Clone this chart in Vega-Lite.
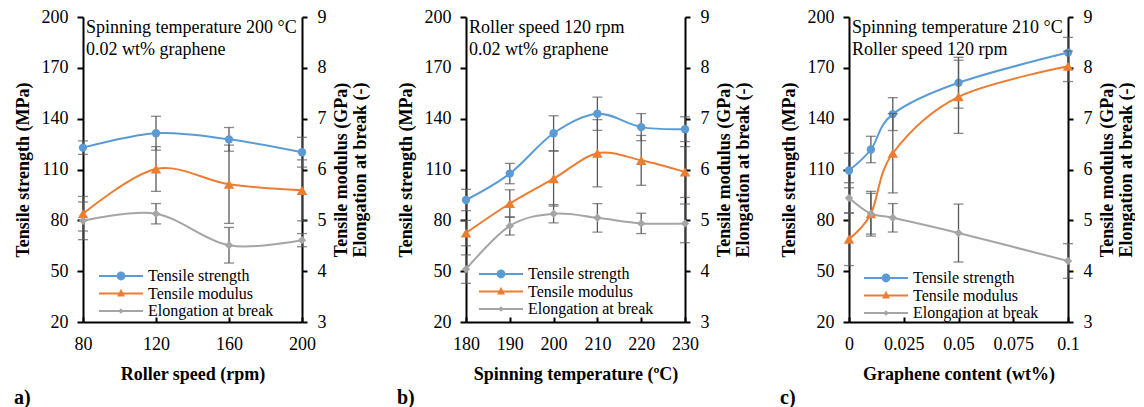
{
  "$schema": "https://vega.github.io/schema/vega-lite/v6.json",
  "padding": {"left": 14, "top": 8, "right": 0, "bottom": 0},
  "background": "white",
  "spacing": 28,
  "data": {"values": [
    {"p": "a", "x": 80, "s": "Tensile strength", "v": 122.9, "e": 4},
    {"p": "a", "x": 120, "s": "Tensile strength", "v": 131.4, "e": 10},
    {"p": "a", "x": 160, "s": "Tensile strength", "v": 127.8, "e": 7},
    {"p": "a", "x": 200, "s": "Tensile strength", "v": 120.2, "e": 8.8},
    {"p": "a", "x": 80, "s": "Tensile modulus", "v": 5.13, "e": 0.34},
    {"p": "a", "x": 120, "s": "Tensile modulus", "v": 6.01, "e": 0.44},
    {"p": "a", "x": 160, "s": "Tensile modulus", "v": 5.71, "e": 0.77},
    {"p": "a", "x": 200, "s": "Tensile modulus", "v": 5.59, "e": 0.6},
    {"p": "a", "x": 80, "s": "Elongation at break", "v": 4.99, "e": 0.37},
    {"p": "a", "x": 120, "s": "Elongation at break", "v": 5.13, "e": 0.2},
    {"p": "a", "x": 160, "s": "Elongation at break", "v": 4.51, "e": 0.35},
    {"p": "a", "x": 200, "s": "Elongation at break", "v": 4.61, "e": 0.13},
    {"p": "b", "x": 180, "s": "Tensile strength", "v": 92.0, "e": 6.3},
    {"p": "b", "x": 190, "s": "Tensile strength", "v": 107.6, "e": 6},
    {"p": "b", "x": 200, "s": "Tensile strength", "v": 131.4, "e": 10.3},
    {"p": "b", "x": 210, "s": "Tensile strength", "v": 142.9, "e": 9.8},
    {"p": "b", "x": 220, "s": "Tensile strength", "v": 135.0, "e": 8},
    {"p": "b", "x": 230, "s": "Tensile strength", "v": 133.8, "e": 7.3},
    {"p": "b", "x": 180, "s": "Tensile modulus", "v": 4.75, "e": 0.25},
    {"p": "b", "x": 190, "s": "Tensile modulus", "v": 5.33, "e": 0.27},
    {"p": "b", "x": 200, "s": "Tensile modulus", "v": 5.82, "e": 0.54},
    {"p": "b", "x": 210, "s": "Tensile modulus", "v": 6.32, "e": 0.66},
    {"p": "b", "x": 220, "s": "Tensile modulus", "v": 6.18, "e": 0.49},
    {"p": "b", "x": 230, "s": "Tensile modulus", "v": 5.95, "e": 0.5},
    {"p": "b", "x": 180, "s": "Elongation at break", "v": 4.04, "e": 0.28},
    {"p": "b", "x": 190, "s": "Elongation at break", "v": 4.89, "e": 0.18},
    {"p": "b", "x": 200, "s": "Elongation at break", "v": 5.13, "e": 0.18},
    {"p": "b", "x": 210, "s": "Elongation at break", "v": 5.05, "e": 0.28},
    {"p": "b", "x": 220, "s": "Elongation at break", "v": 4.94, "e": 0.2},
    {"p": "b", "x": 230, "s": "Elongation at break", "v": 4.94, "e": 0.38},
    {"p": "c", "x": 0, "s": "Tensile strength", "v": 109.4, "e": 10.2},
    {"p": "c", "x": 0.01, "s": "Tensile strength", "v": 121.8, "e": 7.8},
    {"p": "c", "x": 0.02, "s": "Tensile strength", "v": 142.7, "e": 9.7},
    {"p": "c", "x": 0.05, "s": "Tensile strength", "v": 161.2, "e": 15},
    {"p": "c", "x": 0.1, "s": "Tensile strength", "v": 179.0, "e": 9},
    {"p": "c", "x": 0, "s": "Tensile modulus", "v": 4.63, "e": 0.52},
    {"p": "c", "x": 0.01, "s": "Tensile modulus", "v": 5.13, "e": 0.44},
    {"p": "c", "x": 0.02, "s": "Tensile modulus", "v": 6.32, "e": 0.78},
    {"p": "c", "x": 0.05, "s": "Tensile modulus", "v": 7.43, "e": 0.72},
    {"p": "c", "x": 0.1, "s": "Tensile modulus", "v": 8.03, "e": 0.3},
    {"p": "c", "x": 0, "s": "Elongation at break", "v": 5.44, "e": 0.3},
    {"p": "c", "x": 0.01, "s": "Elongation at break", "v": 5.13, "e": 0.4},
    {"p": "c", "x": 0.02, "s": "Elongation at break", "v": 5.05, "e": 0.28},
    {"p": "c", "x": 0.05, "s": "Elongation at break", "v": 4.75, "e": 0.57},
    {"p": "c", "x": 0.1, "s": "Elongation at break", "v": 4.2, "e": 0.34}
  ]},
  "config": {
    "font": "Liberation Serif",
    "view": {"stroke": null},
    "axis": {
      "grid": false, "domainColor": "black", "domainWidth": 2, "tickColor": "black", "tickWidth": 2,
      "labelColor": "black", "titleColor": "black", "labelFont": "Liberation Serif", "titleFont": "Liberation Serif",
      "labelFontSize": 18, "titleFontSize": 18, "titleFontWeight": "bold", "labelFontWeight": "normal", "labelFlush": false
    },
    "title": {"font": "Liberation Serif", "color": "black"},
    "legend": {
      "title": null, "orient": "none", "padding": 0, "labelFont": "Liberation Serif", "labelFontSize": 16,
      "labelColor": "black", "symbolSize": 64, "symbolStrokeWidth": 0, "symbolOpacity": 1, "symbolOffset": 7, "labelOffset": 19,
      "rowPadding": 1.5, "labelLimit": 300
    }
  },
  "resolve": {"scale": {"color": "independent", "shape": "independent"}, "legend": {"color": "independent", "shape": "independent"}},
  "hconcat": [
    {
      "title": {"text": "a)", "orient": "bottom", "anchor": "start", "frame": "bounds", "fontSize": 20, "fontWeight": "bold", "offset": 5},
      "vconcat": [{
        "width": 219, "height": 305,
        "title": {"text": ["Spinning temperature 200 °C", "0.02 wt% graphene"], "orient": "top", "anchor": "start", "frame": "group", "baseline": "top", "offset": -51, "dx": 3, "fontSize": 18, "fontWeight": "normal", "lineHeight": 22},
        "transform": [{"filter": "datum.p === 'a'"}],
        "encoding": {
          "x": {"field": "x", "type": "quantitative", "scale": {"domain": [80, 200], "nice": false, "zero": false, "padding": 0},
                "axis": {"title": "Roller speed (rpm)", "values": [80, 120, 160, 200], "tickSize": -5, "labelPadding": 18, "titlePadding": 12}},
          "color": {"field": "s", "type": "nominal",
                    "scale": {"domain": ["Tensile strength", "Tensile modulus", "Elongation at break"], "range": ["#5B9BD5", "#ED7D31", "#A5A5A5"]},
                    "legend": {"legendX": 23, "legendY": 251}}
        },
        "layer": [
          {
            "transform": [{"filter": "datum.s === 'Tensile strength'"}],
            "encoding": {"y": {"field": "v", "type": "quantitative", "scale": {"domain": [20, 200], "nice": false, "zero": false},
                               "axis": {"title": "Tensile strength (MPa)", "values": [20, 50, 80, 110, 140, 170, 200], "tickSize": 6, "labelPadding": 9, "titlePadding": 9}}},
            "layer": [
              {"mark": {"type": "point", "filled": true, "opacity": 0},
               "encoding": {"shape": {"field": "s", "type": "nominal",
                 "scale": {"domain": ["Tensile strength", "Tensile modulus", "Elongation at break"],
                           "range": ["M-5.5,-0.25L5.5,-0.25L5.5,0.25L-5.5,0.25ZM-1.1,0A1.1,1.1,0,1,1,1.1,0A1.1,1.1,0,1,1,-1.1,0Z", "M-5.5,-0.25L5.5,-0.25L5.5,0.25L-5.5,0.25ZM0,-1.2L1,0.75L-1,0.75Z", "M-5.5,-0.25L5.5,-0.25L5.5,0.25L-5.5,0.25ZM0,-0.7L0.7,0L0,0.7L-0.7,0Z"]},
                 "legend": {"legendX": 23, "legendY": 251}}}},
              {"mark": {"type": "line", "interpolate": "cardinal", "strokeWidth": 2}},
              {"mark": {"type": "errorbar", "ticks": {"size": 10}, "thickness": 1.3}, "encoding": {"yError": {"field": "e"}, "color": {"value": "#595959"}}},
              {"mark": {"type": "point", "filled": true, "shape": "circle", "size": 70, "opacity": 1}}
            ]
          },
          {
            "transform": [{"filter": "datum.s !== 'Tensile strength'"}],
            "encoding": {"y": {"field": "v", "type": "quantitative", "scale": {"domain": [3, 9], "nice": false, "zero": false},
                               "axis": {"orient": "right", "title": ["Tensile modulus (GPa)", "Elongation at break (-)"], "values": [3, 4, 5, 6, 7, 8, 9], "tickSize": 5, "labelPadding": 10, "titlePadding": -13, "titleAngle": 270, "titleBaseline": "top", "titleLineHeight": 19}}},
            "layer": [
              {"mark": {"type": "line", "interpolate": "cardinal", "strokeWidth": 2}},
              {"mark": {"type": "errorbar", "ticks": {"size": 10}, "thickness": 1.3}, "encoding": {"yError": {"field": "e"}, "color": {"value": "#595959"}}},
              {"transform": [{"filter": "datum.s === 'Tensile modulus'"}], "mark": {"type": "point", "filled": true, "shape": "triangle-up", "size": 110, "opacity": 1}},
              {"transform": [{"filter": "datum.s === 'Elongation at break'"}], "mark": {"type": "point", "filled": true, "shape": "diamond", "size": 70, "opacity": 1}}
            ]
          }
        ],
        "resolve": {"scale": {"y": "independent"}}
      }]
    },
    {
      "title": {"text": "b)", "orient": "bottom", "anchor": "start", "frame": "bounds", "fontSize": 20, "fontWeight": "bold", "offset": 5},
      "vconcat": [{
        "width": 219, "height": 305,
        "title": {"text": ["Roller speed 120 rpm", "0.02 wt% graphene"], "orient": "top", "anchor": "start", "frame": "group", "baseline": "top", "offset": -51, "dx": 3, "fontSize": 18, "fontWeight": "normal", "lineHeight": 22},
        "transform": [{"filter": "datum.p === 'b'"}],
        "encoding": {
          "x": {"field": "x", "type": "quantitative", "scale": {"domain": [180, 230], "nice": false, "zero": false, "padding": 0},
                "axis": {"title": "Spinning temperature (ºC)", "values": [180, 190, 200, 210, 220, 230], "tickSize": -5, "labelPadding": 18, "titlePadding": 12}},
          "color": {"field": "s", "type": "nominal",
                    "scale": {"domain": ["Tensile strength", "Tensile modulus", "Elongation at break"], "range": ["#5B9BD5", "#ED7D31", "#A5A5A5"]},
                    "legend": {"legendX": 20, "legendY": 249}}
        },
        "layer": [
          {
            "transform": [{"filter": "datum.s === 'Tensile strength'"}],
            "encoding": {"y": {"field": "v", "type": "quantitative", "scale": {"domain": [20, 200], "nice": false, "zero": false},
                               "axis": {"title": "Tensile strength (MPa)", "values": [20, 50, 80, 110, 140, 170, 200], "tickSize": 6, "labelPadding": 9, "titlePadding": 9}}},
            "layer": [
              {"mark": {"type": "point", "filled": true, "opacity": 0},
               "encoding": {"shape": {"field": "s", "type": "nominal",
                 "scale": {"domain": ["Tensile strength", "Tensile modulus", "Elongation at break"],
                           "range": ["M-5.5,-0.25L5.5,-0.25L5.5,0.25L-5.5,0.25ZM-1.1,0A1.1,1.1,0,1,1,1.1,0A1.1,1.1,0,1,1,-1.1,0Z", "M-5.5,-0.25L5.5,-0.25L5.5,0.25L-5.5,0.25ZM0,-1.2L1,0.75L-1,0.75Z", "M-5.5,-0.25L5.5,-0.25L5.5,0.25L-5.5,0.25ZM0,-0.7L0.7,0L0,0.7L-0.7,0Z"]},
                 "legend": {"legendX": 20, "legendY": 249}}}},
              {"mark": {"type": "line", "interpolate": "cardinal", "strokeWidth": 2}},
              {"mark": {"type": "errorbar", "ticks": {"size": 10}, "thickness": 1.3}, "encoding": {"yError": {"field": "e"}, "color": {"value": "#595959"}}},
              {"mark": {"type": "point", "filled": true, "shape": "circle", "size": 70, "opacity": 1}}
            ]
          },
          {
            "transform": [{"filter": "datum.s !== 'Tensile strength'"}],
            "encoding": {"y": {"field": "v", "type": "quantitative", "scale": {"domain": [3, 9], "nice": false, "zero": false},
                               "axis": {"orient": "right", "title": ["Tensile modulus (GPa)", "Elongation at break (-)"], "values": [3, 4, 5, 6, 7, 8, 9], "tickSize": 5, "labelPadding": 10, "titlePadding": -13, "titleAngle": 270, "titleBaseline": "top", "titleLineHeight": 19}}},
            "layer": [
              {"mark": {"type": "line", "interpolate": "cardinal", "strokeWidth": 2}},
              {"mark": {"type": "errorbar", "ticks": {"size": 10}, "thickness": 1.3}, "encoding": {"yError": {"field": "e"}, "color": {"value": "#595959"}}},
              {"transform": [{"filter": "datum.s === 'Tensile modulus'"}], "mark": {"type": "point", "filled": true, "shape": "triangle-up", "size": 110, "opacity": 1}},
              {"transform": [{"filter": "datum.s === 'Elongation at break'"}], "mark": {"type": "point", "filled": true, "shape": "diamond", "size": 70, "opacity": 1}}
            ]
          }
        ],
        "resolve": {"scale": {"y": "independent"}}
      }]
    },
    {
      "title": {"text": "c)", "orient": "bottom", "anchor": "start", "frame": "bounds", "fontSize": 20, "fontWeight": "bold", "offset": 5},
      "vconcat": [{
        "width": 219, "height": 305,
        "title": {"text": ["Spinning temperature 210 °C", "Roller speed 120 rpm"], "orient": "top", "anchor": "start", "frame": "group", "baseline": "top", "offset": -51, "dx": 3, "fontSize": 18, "fontWeight": "normal", "lineHeight": 22},
        "transform": [{"filter": "datum.p === 'c'"}],
        "encoding": {
          "x": {"field": "x", "type": "quantitative", "scale": {"domain": [0, 0.1], "nice": false, "zero": false, "padding": 0},
                "axis": {"title": "Graphene content (wt%)", "values": [0, 0.025, 0.05, 0.075, 0.1], "labelExpr": "'' + datum.value", "tickSize": -5, "labelPadding": 18, "titlePadding": 12}},
          "color": {"field": "s", "type": "nominal",
                    "scale": {"domain": ["Tensile strength", "Tensile modulus", "Elongation at break"], "range": ["#5B9BD5", "#ED7D31", "#A5A5A5"]},
                    "legend": {"legendX": 22, "legendY": 253}}
        },
        "layer": [
          {
            "transform": [{"filter": "datum.s === 'Tensile strength'"}],
            "encoding": {"y": {"field": "v", "type": "quantitative", "scale": {"domain": [20, 200], "nice": false, "zero": false},
                               "axis": {"title": "Tensile strength (MPa)", "values": [20, 50, 80, 110, 140, 170, 200], "tickSize": 6, "labelPadding": 9, "titlePadding": 9}}},
            "layer": [
              {"mark": {"type": "point", "filled": true, "opacity": 0},
               "encoding": {"shape": {"field": "s", "type": "nominal",
                 "scale": {"domain": ["Tensile strength", "Tensile modulus", "Elongation at break"],
                           "range": ["M-5.5,-0.25L5.5,-0.25L5.5,0.25L-5.5,0.25ZM-1.1,0A1.1,1.1,0,1,1,1.1,0A1.1,1.1,0,1,1,-1.1,0Z", "M-5.5,-0.25L5.5,-0.25L5.5,0.25L-5.5,0.25ZM0,-1.2L1,0.75L-1,0.75Z", "M-5.5,-0.25L5.5,-0.25L5.5,0.25L-5.5,0.25ZM0,-0.7L0.7,0L0,0.7L-0.7,0Z"]},
                 "legend": {"legendX": 22, "legendY": 253}}}},
              {"mark": {"type": "line", "interpolate": "cardinal", "strokeWidth": 2}},
              {"mark": {"type": "errorbar", "ticks": {"size": 10}, "thickness": 1.3}, "encoding": {"yError": {"field": "e"}, "color": {"value": "#595959"}}},
              {"mark": {"type": "point", "filled": true, "shape": "circle", "size": 70, "opacity": 1}}
            ]
          },
          {
            "transform": [{"filter": "datum.s !== 'Tensile strength'"}],
            "encoding": {"y": {"field": "v", "type": "quantitative", "scale": {"domain": [3, 9], "nice": false, "zero": false},
                               "axis": {"orient": "right", "title": ["Tensile modulus (GPa)", "Elongation at break (-)"], "values": [3, 4, 5, 6, 7, 8, 9], "tickSize": 5, "labelPadding": 10, "titlePadding": -13, "titleAngle": 270, "titleBaseline": "top", "titleLineHeight": 19}}},
            "layer": [
              {"mark": {"type": "line", "interpolate": "cardinal", "strokeWidth": 2}},
              {"mark": {"type": "errorbar", "ticks": {"size": 10}, "thickness": 1.3}, "encoding": {"yError": {"field": "e"}, "color": {"value": "#595959"}}},
              {"transform": [{"filter": "datum.s === 'Tensile modulus'"}], "mark": {"type": "point", "filled": true, "shape": "triangle-up", "size": 110, "opacity": 1}},
              {"transform": [{"filter": "datum.s === 'Elongation at break'"}], "mark": {"type": "point", "filled": true, "shape": "diamond", "size": 70, "opacity": 1}}
            ]
          }
        ],
        "resolve": {"scale": {"y": "independent"}}
      }]
    }
  ]
}
